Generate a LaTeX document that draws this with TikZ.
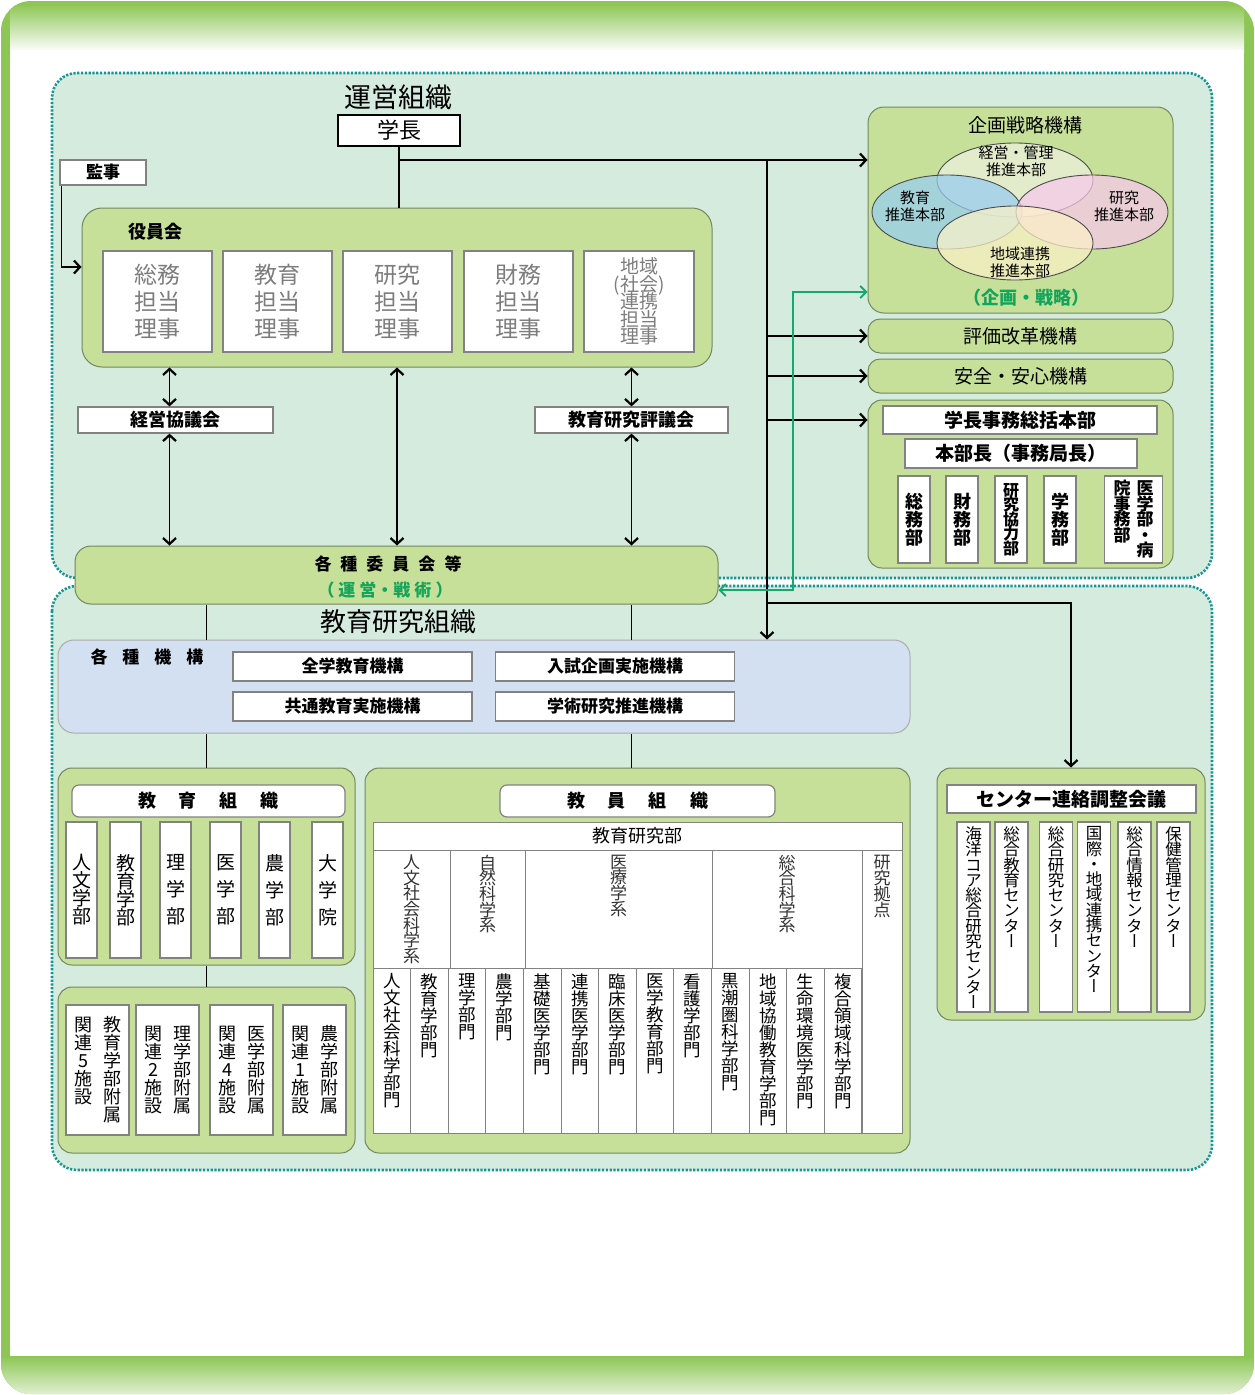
\documentclass[tikz,border=0pt]{standalone}
\usepackage{fontspec}
\setmainfont{Noto Sans CJK JP}
\newfontfamily\vfont{Noto Sans CJK JP}[RawFeature=+vert]
\usetikzlibrary{arrows.meta,shapes.geometric,calc}
\definecolor{framegreen}{RGB}{141,198,84}
\definecolor{mint}{RGB}{212,235,222}
\definecolor{gfill}{RGB}{198,224,154}
\definecolor{gborder}{RGB}{115,135,95}
\definecolor{bfill}{RGB}{210,224,242}
\definecolor{dotc}{RGB}{20,150,150}
\definecolor{gtext}{RGB}{20,165,90}
\definecolor{garrow}{RGB}{20,170,110}
\definecolor{wborder}{RGB}{130,130,130}
\definecolor{dirtext}{RGB}{125,125,125}
\definecolor{e1c}{RGB}{238,242,222}
\definecolor{e2c}{RGB}{150,205,242}
\definecolor{e3c}{RGB}{247,200,235}
\definecolor{e4c}{RGB}{252,242,200}
\newcommand\fs[2]{\fontsize{#1}{#2}\selectfont\lineskiplimit=-100pt\relax}
\def\vtp{1em}
\def\vtloop#1{\ifx\relax#1\else\hbox to 1em{\hss#1\hss}\expandafter\vtloop\fi}
\newcommand\vt[1]{\vtop{\vfont\baselineskip=\vtp\relax\lineskiplimit=-1000pt\relax\vtloop#1\relax}}
\begin{document}
\begin{tikzpicture}[x=1pt,y=-1pt,
  gbox/.style={draw=gborder, fill=gfill, rounded corners=14pt, line width=1pt, inner sep=0pt},
  wbox/.style={draw=wborder, fill=white, line width=1.2pt, inner sep=0pt},
  cell/.style={draw=wborder, fill=white, line width=1pt, inner sep=0pt},
  ell/.style={ellipse, draw=gray!60!black, line width=0.9pt, fill opacity=0.72, inner sep=0pt},
  conn/.style={line width=1.7pt, black},
  arr/.style={conn, -{Straight Barb[length=6pt,width=13pt,line width=2.2pt]}},
  arrb/.style={conn, {Straight Barb[length=6pt,width=13pt,line width=2.2pt]}-{Straight Barb[length=6pt,width=13pt,line width=2.2pt]}},
  garrb/.style={draw=garrow, line width=1.4pt, {Straight Barb[length=6pt,width=12pt,line width=1.8pt]}-{Straight Barb[length=6pt,width=12pt,line width=1.8pt]}},
  dotreg/.style={draw=dotc, line width=2.6pt, dash pattern=on 2.2pt off 1.6pt, fill=mint, rounded corners=25pt}
]
\useasboundingbox (0,0) rectangle (1255,1395);
% outer frame
\begin{scope}
\clip[rounded corners=30pt] (1,1) rectangle (1254,1394);
\fill[framegreen] (0,0) rectangle (1255,1395);
\shade[top color=framegreen, bottom color=white] (10,4) rectangle (1244,52);
\fill[white] (10,50) rectangle (1244,1356);
\shade[top color=framegreen, bottom color=framegreen!25!white] (0,1356) rectangle (1255,1395);
\end{scope}
% regions
\draw[dotreg] (52,73) rectangle (1212,578);
\draw[dotreg] (52,586) rectangle (1212,1170);

% ===== upper =====
\node[font=\fs{27}{30}] (t1) at (398,97) {運営組織};
\node[draw=black, line width=2pt, fill=white, minimum width=122pt, minimum height=31pt, inner sep=0pt, font=\fs{22}{24}] (gakucho) at (399,130.5) {学長};
\node[wbox, minimum width=86pt, minimum height=25pt, font=\fs{17}{20}\bfseries] (kanji) at (103,172.5) {監事};
\node[gbox, minimum width=630pt, minimum height=159pt, rounded corners=20pt] (yakuin) at (397,287.5) {};
\node[font=\fs{18}{20}\bfseries] (yakuinL) at (155,232) {役員会};
\foreach \n/\x/\t in {d1/157.5/総務, d2/277.5/教育, d3/397.5/研究, d4/518.5/財務}
  \node[wbox, minimum width=109pt, minimum height=101pt, align=center, text=dirtext, font=\fs{23}{27}] (\n) at (\x,301.5) {\t\\担当\\理事};
\node[wbox, minimum width=110pt, minimum height=101pt, align=center, text=dirtext, font=\fs{19}{17.5}] (d5) at (639,301.5) {地域\\(社会)\\連携\\担当\\理事};
\node[wbox, minimum width=195pt, minimum height=26pt, font=\fs{18}{20}\bfseries] (keiei) at (175.5,420) {経営協議会};
\node[wbox, minimum width=193pt, minimum height=26pt, font=\fs{18}{20}\bfseries] (kyoken) at (631.5,420) {教育研究評議会};
\node[gbox, minimum width=643pt, minimum height=58pt, rounded corners=16pt] (iinkai) at (396.5,575) {};
\node[font=\fs{17}{19}\bfseries] (iinL1) at (388,564) {各\hspace{9pt}種\hspace{9pt}委\hspace{9pt}員\hspace{9pt}会\hspace{9pt}等};
\node[font=\fs{17}{19}\bfseries, text=gtext] (iinL2) at (385,590) {（\hspace{4pt}運\hspace{4pt}営・戦\hspace{4pt}術\hspace{4pt}）};

% right upper
\node[gbox, minimum width=305pt, minimum height=206pt, rounded corners=16pt] (kikaku) at (1020.5,210) {};
\node[font=\fs{19}{21}] (kikakuT) at (1025,125) {企画戦略機構};
\node[ell, fill=e1c, minimum width=156pt, minimum height=74pt] (e1) at (1015,180) {};
\node[ell, fill=e2c, minimum width=150pt, minimum height=74pt] (e2) at (947,212) {};
\node[ell, fill=e3c, minimum width=152pt, minimum height=74pt] (e3) at (1092,212) {};
\node[ell, fill=e4c, minimum width=156pt, minimum height=74pt] (e4) at (1015,243) {};
\node[font=\fs{15}{17}, align=center] (e1L) at (1016,161) {経営・管理\\推進本部};
\node[font=\fs{15}{17}, align=center] (e2L) at (915,206) {教育\\推進本部};
\node[font=\fs{15}{17}, align=center] (e3L) at (1124,206) {研究\\推進本部};
\node[font=\fs{15}{17}, align=center] (e4L) at (1020,262) {地域連携\\推進本部};
\node[font=\fs{18}{20}\bfseries, text=gtext] (kikakuS) at (1026,298) {（企画・戦略）};
\node[gbox, minimum width=305pt, minimum height=34pt, rounded corners=12pt, font=\fs{19}{21}] (hyoka) at (1020.5,336) {評価改革機構};
\node[gbox, minimum width=305pt, minimum height=34pt, rounded corners=12pt, font=\fs{19}{21}] (anzen) at (1020.5,376) {安全・安心機構};
\node[gbox, minimum width=305pt, minimum height=168pt] (jimu) at (1020.5,484) {};
\node[wbox, minimum width=274pt, minimum height=28pt, font=\fs{19}{21}\bfseries] (jT1) at (1020,420) {学長事務総括本部};
\node[wbox, minimum width=232pt, minimum height=29pt, font=\fs{19}{21}\bfseries] (jT2) at (1021,453.5) {本部長（事務局長）};
\foreach \n/\x/\t/\p/\f in {j1/914/総務部/18pt/18, j2/962/財務部/18pt/18, j3/1011/研究協力部/14.6pt/16, j4/1060/学務部/18pt/18}
  \node[wbox, minimum width=32pt, minimum height=87pt, font=\fs{\f}{20}\bfseries\def\vtp{\p}] (\n) at (\x,519.5) {\expandafter\vt\expandafter{\t}};
\node[wbox, minimum width=58pt, minimum height=87pt, font=\fs{17}{19}\bfseries\def\vtp{15.5pt}] (j5) at (1133.5,519.5) {\hbox{\vt{院事務部}\hskip 6pt\vt{医学部・病}}};

% ===== lower =====
\node[font=\fs{26}{28}] (t2) at (398,622) {教育研究組織};
\node[gbox, fill=bfill, draw=gray!65, minimum width=852pt, minimum height=93pt, rounded corners=16pt] (kikou) at (484,686.5) {};
\node[font=\fs{17}{19}\bfseries] (kikouL) at (147,657) {各\hspace{15pt}種\hspace{15pt}機\hspace{15pt}構};
\node[wbox, minimum width=239pt, minimum height=29pt, font=\fs{17}{19}\bfseries] (m1) at (352.5,666.5) {全学教育機構};
\node[wbox, minimum width=239pt, minimum height=29pt, font=\fs{17}{19}\bfseries] (m2) at (615,666.5) {入試企画実施機構};
\node[wbox, minimum width=239pt, minimum height=29pt, font=\fs{17}{19}\bfseries] (m3) at (352.5,706.5) {共通教育実施機構};
\node[wbox, minimum width=239pt, minimum height=29pt, font=\fs{17}{19}\bfseries] (m4) at (615,706.5) {学術研究推進機構};

% education organization
\node[gbox, minimum width=297pt, minimum height=197pt] (edu) at (206.5,866.5) {};
\node[wbox, rounded corners=7pt, minimum width=273pt, minimum height=32pt, font=\fs{18}{20}\bfseries] (eduT) at (208.5,801) {教\hspace{23pt}育\hspace{23pt}組\hspace{23pt}織};
\foreach \n/\x/\t/\p in {f1/81.5/人文学部/18pt, f2/125.5/教育学部/18pt, f3/175.5/理学部/27pt, f4/225.5/医学部/27pt, f5/274.5/農学部/27pt, f6/327.5/大学院/27pt}
  \node[wbox, minimum width=31pt, minimum height=136pt, font=\fs{19}{21}\def\vtp{\p}] (\n) at (\x,890) {\expandafter\vt\expandafter{\t}};
\node[gbox, minimum width=297pt, minimum height=166pt] (fuz) at (206.5,1070) {};
\foreach \n/\x/\a/\b in {z1/97.5/教育学部附属/関連5施設, z2/167.5/理学部附属/関連2施設, z3/241.5/医学部附属/関連4施設, z4/314.5/農学部附属/関連1施設}
  \node[wbox, minimum width=63pt, minimum height=130pt, font=\fs{18}{20}\def\vtp{18pt}] (\n) at (\x,1070) {\hbox{\expandafter\vt\expandafter{\b}\hskip 11pt\expandafter\vt\expandafter{\a}}};

% faculty organization
\node[gbox, minimum width=545pt, minimum height=385pt] (kyoin) at (637.5,960.5) {};
\node[wbox, rounded corners=7pt, minimum width=275pt, minimum height=32pt, font=\fs{18}{20}\bfseries] (kyoinT) at (637.5,801) {教\hspace{23pt}員\hspace{23pt}組\hspace{23pt}織};
\node[cell, minimum width=529pt, minimum height=28pt, font=\fs{18}{20}] (tbH) at (637.5,836) {教育研究部};
\foreach \n/\x/\w/\t in {s1/411.5/77/人文社会科学系, s2/487.5/75/自然科学系, s3/618.5/187/医療学系, s4/787/150/総合科学系} {
  \node[cell, minimum width=\w pt, minimum height=118pt] (\n) at (\x,909) {};
  \node[anchor=north, inner sep=0pt, text=black!80, font=\fs{17}{19}\def\vtp{15.7pt}] (\n-L) at ($(\n.north)+(0,5)$) {\expandafter\vt\expandafter{\t}};
}
\node[cell, minimum width=40pt, minimum height=283pt] (kk) at (882,991.5) {};
\node[anchor=north, inner sep=0pt, text=black!80, font=\fs{17}{19}\def\vtp{16pt}] (kk-L) at ($(kk.north)+(0,5)$) {\vt{研究拠点}};
\foreach \t [count=\i] in {人文社会科学部門, 教育学部門, 理学部門, 農学部門, 基礎医学部門, 連携医学部門, 臨床医学部門, 医学教育部門, 看護学部門, 黒潮圏科学部門, 地域協働教育学部門, 生命環境医学部門, 複合領域科学部門} {
  \node[cell, minimum width=37.6pt, minimum height=165pt] (b\i) at ({373+37.615*(\i-0.5)},1050.5) {};
  \node[anchor=north, inner sep=0pt, font=\fs{17.5}{19}\def\vtp{17pt}] (b\i-L) at ($(b\i.north)+(0,6)$) {\expandafter\vt\expandafter{\t}};
}

% centers
\node[gbox, minimum width=268pt, minimum height=252pt] (cen) at (1071,894) {};
\node[wbox, minimum width=249pt, minimum height=28pt, font=\fs{19}{21}\bfseries] (cenT) at (1071.5,799) {センター連絡調整会議};
\foreach \n/\x/\t in {c1/973.5/海洋コア総合研究センター, c2/1011.5/総合教育センター, c3/1056/総合研究センター, c4/1094/国際・地域連携センター, c5/1134.5/総合情報センター, c6/1173.5/保健管理センター} {
  \node[wbox, minimum width=33pt, minimum height=190pt] (\n) at (\x,917) {};
  \node[anchor=north, inner sep=0pt, font=\fs{16.5}{19}\def\vtp{15.3pt}] (\n-L) at ($(\n.north)+(0,5)$) {\expandafter\vt\expandafter{\t}};
}

% ===== connectors =====
\coordinate (jA) at (399,160);
\coordinate (jB) at (767,160);
\coordinate (jC) at (767,603);
\coordinate (gA) at (793,590);
\coordinate (gB) at (793,292);
\coordinate (kA) at (62,267);
\draw[conn] (gakucho.south) -- (gakucho.south |- yakuin.north);
\draw[arr] (jA) -- (kikaku.west |- jA);
\draw[arr] (jB) -- (jB |- kikou.north);
\draw[arr] (jB |- hyoka.west) -- (hyoka.west);
\draw[arr] (jB |- anzen.west) -- (anzen.west);
\draw[arr] (jB |- jT1.west) -- (jimu.west |- jT1.west);
\draw[arr] (jC) -| (cen.north);
\draw[garrb] (iinkai.east |- gA) -- (gA) -- (gB) -- (kikaku.west |- gB);
\draw[arr] ($(kanji.south west)+(2,0)$) |- (yakuin.west |- kA);
\draw[arrb] ([xshift=-6pt]keiei.north |- yakuin.south) -- ([xshift=-6pt]keiei.north);
\draw[arrb] ([xshift=-6pt]keiei.south) -- ([xshift=-6pt]keiei.south |- iinkai.north);
\draw[arrb] (yakuin.south) -- (yakuin.south |- iinkai.north);
\draw[arrb] (kyoken.north |- yakuin.south) -- (kyoken.north);
\draw[arrb] (kyoken.south) -- (kyoken.south |- iinkai.north);
\draw[conn, line width=1.2pt] (edu.north |- iinkai.south) -- (edu.north |- kikou.north);
\draw[conn, line width=1.2pt] (edu.north |- kikou.south) -- (edu.north);
\draw[conn, line width=1.2pt] (kyoken.south |- iinkai.south) -- (kyoken.south |- kikou.north);
\draw[conn, line width=1.2pt] (kyoken.south |- kikou.south) -- (kyoken.south |- kyoin.north);
\draw[conn, line width=1.2pt] (edu.south) -- (fuz.north);
\end{tikzpicture}
\end{document}
